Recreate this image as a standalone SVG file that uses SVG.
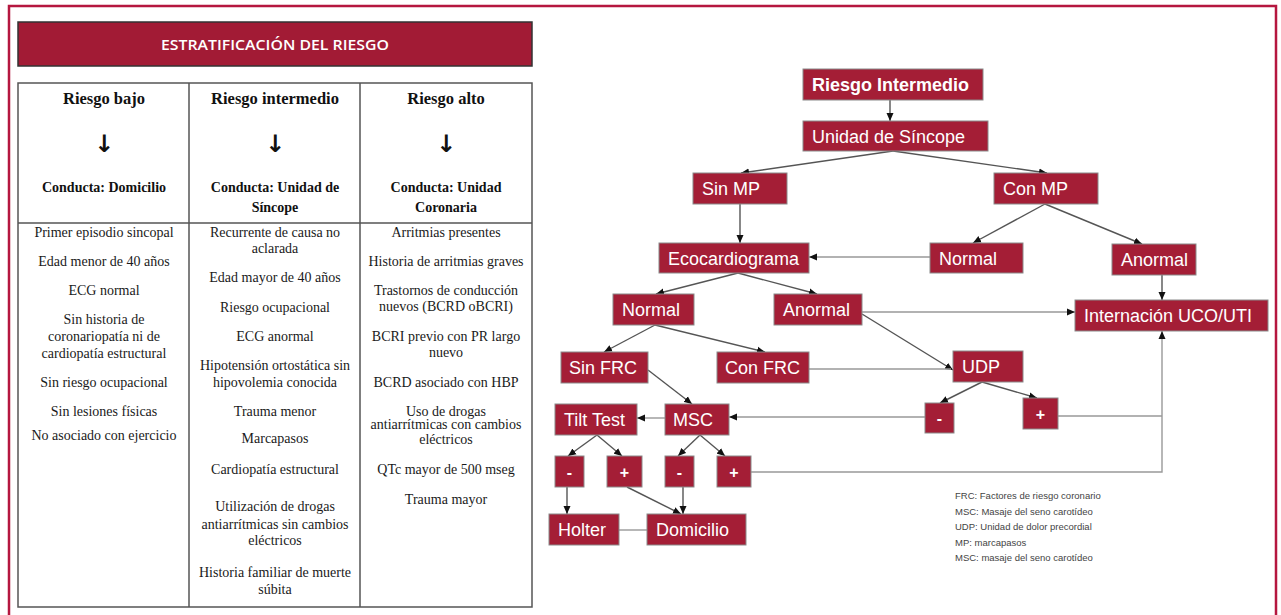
<svg xmlns="http://www.w3.org/2000/svg" width="1281" height="615" viewBox="0 0 1281 615">
<style>
.frame{fill:none;stroke:#B5173F;stroke-width:2.5}
.tline{stroke:#555;stroke-width:1.5;fill:none}
.th{font-family:"Liberation Serif",serif;font-weight:bold;fill:#111;text-anchor:middle}
.arr{font-family:"DejaVu Sans",sans-serif;font-size:24px;font-weight:bold;fill:#111;text-anchor:middle}
.tb{font-family:"Liberation Serif",serif;font-size:14px;fill:#1a1a1a;text-anchor:middle}
.box{fill:#A41E36;stroke:#8a8a8a;stroke-width:1}
.bt{font-family:"Liberation Sans",Arial,sans-serif;font-size:18px;fill:#fff}
.pm{font-family:"Liberation Sans",Arial,sans-serif;font-size:16px;font-weight:bold;fill:#fff;text-anchor:middle}
.c{stroke:#555;stroke-width:1.4;fill:none}
.cl{stroke:#999;stroke-width:1.4;fill:none}
.leg{font-family:"Liberation Sans",Arial,sans-serif;font-size:9.5px;fill:#444}
</style>
<defs>
<marker id="ah" markerUnits="userSpaceOnUse" markerWidth="8" markerHeight="8" refX="8" refY="4" orient="auto">
<path d="M0,0.5 L8,4 L0,7.5 z" fill="#111"/>
</marker>
</defs>
<rect width="1281" height="615" fill="#fff"/>
<path class="frame" d="M9,615 V6 H1276 V615"/>

<g id="title">
<rect x="18" y="22" width="514" height="44" fill="#A21B35" stroke="#333" stroke-width="1.5"/>
<text x="275" y="50" font-family="'Open Sans','Liberation Sans',sans-serif" font-size="14" font-weight="600" fill="#fff" text-anchor="middle" textLength="228" lengthAdjust="spacingAndGlyphs">ESTRATIFICACIÓN DEL RIESGO</text>
</g>

<g id="table">
<rect class="tline" x="18" y="83" width="514" height="524"/>
<line class="tline" x1="189" y1="83" x2="189" y2="607"/>
<line class="tline" x1="360" y1="83" x2="360" y2="607"/>
<line class="tline" x1="18" y1="223" x2="532" y2="223"/>
<text class="th" font-size="16.5" x="104" y="104">Riesgo bajo</text>
<text class="th" font-size="16.5" x="275" y="104">Riesgo intermedio</text>
<text class="th" font-size="16.5" x="446" y="104">Riesgo alto</text>
<text class="arr" x="104" y="152">↓</text>
<text class="arr" x="275" y="152">↓</text>
<text class="arr" x="446" y="152">↓</text>
<text class="th" font-size="14" x="104" y="192">Conducta: Domicilio</text>
<text class="th" font-size="14" x="275" y="192">Conducta: Unidad de</text>
<text class="th" font-size="14" x="275" y="212">Síncope</text>
<text class="th" font-size="14" x="446" y="192">Conducta: Unidad</text>
<text class="th" font-size="14" x="446" y="212">Coronaria</text>

<text class="tb" x="104" y="237">Primer episodio sincopal</text>
<text class="tb" x="104" y="266">Edad menor de 40 años</text>
<text class="tb" x="104" y="295">ECG normal</text>
<text class="tb" x="104" y="324">Sin historia de</text>
<text class="tb" x="104" y="341">coronariopatía ni de</text>
<text class="tb" x="104" y="358">cardiopatía estructural</text>
<text class="tb" x="104" y="387">Sin riesgo ocupacional</text>
<text class="tb" x="104" y="416">Sin lesiones físicas</text>
<text class="tb" x="104" y="440">No asociado con ejercicio</text>

<text class="tb" x="275" y="237">Recurrente de causa no</text>
<text class="tb" x="275" y="253">aclarada</text>
<text class="tb" x="275" y="282">Edad mayor de 40 años</text>
<text class="tb" x="275" y="312">Riesgo ocupacional</text>
<text class="tb" x="275" y="341">ECG anormal</text>
<text class="tb" x="275" y="370">Hipotensión ortostática sin</text>
<text class="tb" x="275" y="387">hipovolemia conocida</text>
<text class="tb" x="275" y="416">Trauma menor</text>
<text class="tb" x="275" y="443">Marcapasos</text>
<text class="tb" x="275" y="474">Cardiopatía estructural</text>
<text class="tb" x="275" y="511">Utilización de drogas</text>
<text class="tb" x="275" y="529">antiarrítmicas sin cambios</text>
<text class="tb" x="275" y="545">eléctricos</text>
<text class="tb" x="275" y="577">Historia familiar de muerte</text>
<text class="tb" x="275" y="594">súbita</text>

<text class="tb" x="446" y="237">Arritmias presentes</text>
<text class="tb" x="446" y="266">Historia de arritmias graves</text>
<text class="tb" x="446" y="295">Trastornos de conducción</text>
<text class="tb" x="446" y="311">nuevos (BCRD oBCRI)</text>
<text class="tb" x="446" y="341">BCRI previo con PR largo</text>
<text class="tb" x="446" y="357">nuevo</text>
<text class="tb" x="446" y="387">BCRD asociado con HBP</text>
<text class="tb" x="446" y="416">Uso de drogas</text>
<text class="tb" x="446" y="429">antiarrítmicas con cambios</text>
<text class="tb" x="446" y="444">eléctricos</text>
<text class="tb" x="446" y="474">QTc mayor de 500 mseg</text>
<text class="tb" x="446" y="504">Trauma mayor</text>
</g>

<g id="connectors">
<path class="c" d="M890,100 V121" marker-end="url(#ah)"/>
<path class="c" d="M893,151 L741,173" marker-end="url(#ah)"/>
<path class="c" d="M893,151 L1047,173" marker-end="url(#ah)"/>
<path class="c" d="M740,204 V243" marker-end="url(#ah)"/>
<path class="c" d="M1045,204 L973,243" marker-end="url(#ah)"/>
<path class="c" d="M1045,204 L1142,244" marker-end="url(#ah)"/>
<path class="cl" d="M930,257 H809" marker-end="url(#ah)"/>
<path class="c" d="M738,273 L656,294" marker-end="url(#ah)"/>
<path class="c" d="M738,273 L817,294" marker-end="url(#ah)"/>
<path class="c" d="M1162,275 V300" marker-end="url(#ah)"/>
<path class="cl" d="M862,312 H1075" marker-end="url(#ah)"/>
<path class="c" d="M862,314 L953,370" marker-end="url(#ah)"/>
<path class="c" d="M655,325 L604,352" marker-end="url(#ah)"/>
<path class="c" d="M655,325 L765,352" marker-end="url(#ah)"/>
<path class="cl" d="M809,369 H951"/>
<path class="c" d="M648,370 L692,404" marker-end="url(#ah)"/>
<path class="cl" d="M665,418 H637" marker-end="url(#ah)"/>
<path class="cl" d="M925,417 H729" marker-end="url(#ah)"/>
<path class="c" d="M982,382 L940,403" marker-end="url(#ah)"/>
<path class="c" d="M982,382 L1037,398" marker-end="url(#ah)"/>
<path class="cl" d="M1058,416 H1162"/>
<path class="cl" d="M751,472 H1162 V331" marker-end="url(#ah)"/>
<path class="c" d="M597,435 L568,456" marker-end="url(#ah)"/>
<path class="c" d="M597,435 L622,456" marker-end="url(#ah)"/>
<path class="c" d="M700,435 L678,456" marker-end="url(#ah)"/>
<path class="c" d="M700,435 L725,456" marker-end="url(#ah)"/>
<path class="c" d="M567,487 V514" marker-end="url(#ah)"/>
<path class="c" d="M627,487 L681,514" marker-end="url(#ah)"/>
<path class="c" d="M683,487 V514" marker-end="url(#ah)"/>
<path class="cl" d="M619,530 H647"/>
</g>

<g id="n-riesgo-intermedio"><rect class="box" x="803" y="69" width="180" height="31"/><text class="bt" font-weight="bold" x="812" y="91">Riesgo Intermedio</text></g>
<g id="n-unidad-sincope"><rect class="box" x="803" y="121" width="185" height="30"/><text class="bt" x="812" y="143">Unidad de Síncope</text></g>
<g id="n-sin-mp"><rect class="box" x="693" y="173" width="94" height="31"/><text class="bt" x="702" y="195">Sin MP</text></g>
<g id="n-con-mp"><rect class="box" x="994" y="173" width="104" height="31"/><text class="bt" x="1003" y="195">Con MP</text></g>
<g id="n-ecocardiograma"><rect class="box" x="659" y="243" width="150" height="30"/><text class="bt" x="668" y="265">Ecocardiograma</text></g>
<g id="n-normal-mp"><rect class="box" x="930" y="243" width="93" height="30"/><text class="bt" x="939" y="265">Normal</text></g>
<g id="n-anormal-mp"><rect class="box" x="1112" y="244" width="84" height="31"/><text class="bt" x="1121" y="266">Anormal</text></g>
<g id="n-internacion"><rect class="box" x="1075" y="300" width="193" height="31"/><text class="bt" x="1084" y="322">Internación UCO/UTI</text></g>
<g id="n-normal-eco"><rect class="box" x="613" y="294" width="81" height="31"/><text class="bt" x="622" y="316">Normal</text></g>
<g id="n-anormal-eco"><rect class="box" x="774" y="294" width="88" height="31"/><text class="bt" x="783" y="316">Anormal</text></g>
<g id="n-sin-frc"><rect class="box" x="561" y="352" width="87" height="31"/><text class="bt" x="569" y="374">Sin FRC</text></g>
<g id="n-con-frc"><rect class="box" x="717" y="352" width="92" height="31"/><text class="bt" x="725" y="374">Con FRC</text></g>
<g id="n-udp"><rect class="box" x="953" y="351" width="70" height="31"/><text class="bt" x="962" y="373">UDP</text></g>
<g id="n-tilt-test"><rect class="box" x="555" y="404" width="82" height="31"/><text class="bt" x="564" y="426">Tilt Test</text></g>
<g id="n-msc"><rect class="box" x="665" y="404" width="64" height="31"/><text class="bt" x="673" y="426">MSC</text></g>
<g id="n-udp-neg"><rect class="box" x="925" y="403" width="29" height="30"/><text class="pm" x="939.5" y="424">-</text></g>
<g id="n-udp-pos"><rect class="box" x="1023" y="398" width="35" height="31"/><text class="pm" x="1040.5" y="420">+</text></g>
<g id="n-tilt-neg"><rect class="box" x="555" y="456" width="29" height="31"/><text class="pm" x="569.5" y="478">-</text></g>
<g id="n-tilt-pos"><rect class="box" x="607" y="456" width="35" height="31"/><text class="pm" x="624.5" y="478">+</text></g>
<g id="n-msc-neg"><rect class="box" x="665" y="456" width="29" height="31"/><text class="pm" x="679.5" y="478">-</text></g>
<g id="n-msc-pos"><rect class="box" x="717" y="456" width="34" height="31"/><text class="pm" x="734" y="478">+</text></g>
<g id="n-holter"><rect class="box" x="549" y="514" width="70" height="31"/><text class="bt" x="558" y="536">Holter</text></g>
<g id="n-domicilio"><rect class="box" x="647" y="514" width="99" height="31"/><text class="bt" x="656" y="536">Domicilio</text></g>

<g id="legend">
<text class="leg" x="955" y="499">FRC: Factores de riesgo coronario</text>
<text class="leg" x="955" y="515">MSC: Masaje del seno carotídeo</text>
<text class="leg" x="955" y="530">UDP: Unidad de dolor precordial</text>
<text class="leg" x="955" y="546">MP: marcapasos</text>
<text class="leg" x="955" y="561">MSC: masaje del seno carotídeo</text>
</g>
</svg>
